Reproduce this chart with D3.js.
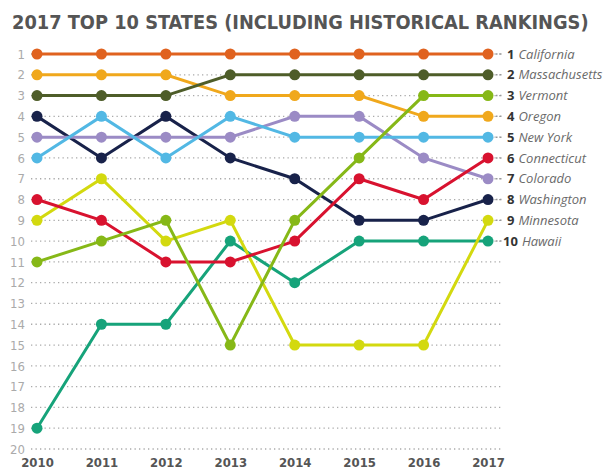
<!DOCTYPE html>
<html>
<head>
<meta charset="utf-8">
<script src="https://cdn.jsdelivr.net/npm/d3@7"></script>
<style>
  body { margin: 0; background: #fff; }
  text { font-family: "DejaVu Sans Condensed", "DejaVu Sans", sans-serif; }
</style>
</head>
<body>
<script>
var width = 610, height = 472;

var years = [2010, 2011, 2012, 2013, 2014, 2015, 2016, 2017];
var rankTicks = d3.range(1, 21);

var states = ["California", "Massachusetts", "Vermont", "Oregon", "New York",
              "Connecticut", "Colorado", "Washington", "Minnesota", "Hawaii"];
var colors = ["#e0621f", "#4e5d29", "#86b817", "#f0a81c", "#52b8e4",
              "#d8122f", "#9b8bc5", "#18224a", "#d3d90f", "#16a37a"];

var californiaRanks    = [1, 1, 1, 1, 1, 1, 1, 1];
var massachusettsRanks = [3, 3, 3, 2, 2, 2, 2, 2];
var vermontRanks       = [11, 10, 9, 15, 9, 6, 3, 3];
var oregonRanks        = [2, 2, 2, 3, 3, 3, 4, 4];
var newYorkRanks       = [6, 4, 6, 4, 5, 5, 5, 5];
var connecticutRanks   = [8, 9, 11, 11, 10, 7, 8, 6];
var coloradoRanks      = [5, 5, 5, 5, 4, 4, 6, 7];
var washingtonRanks    = [4, 6, 4, 6, 7, 9, 9, 8];
var minnesotaRanks     = [9, 7, 10, 9, 15, 15, 15, 9];
var hawaiiRanks        = [19, 14, 14, 10, 12, 10, 10, 10];

var allRanks = [californiaRanks, massachusettsRanks, vermontRanks, oregonRanks,
                newYorkRanks, connecticutRanks, coloradoRanks, washingtonRanks,
                minnesotaRanks, hawaiiRanks];

var svg = d3.select("body").append("svg")
    .attr("width", width)
    .attr("height", height);

var x = d3.scalePoint()
    .domain(years)
    .range([37, 488]);

var y = d3.scaleLinear()
    .domain([1, 20])
    .range([54, 449]);

// title
svg.append("text")
    .attr("x", 12)
    .attr("y", 29)
    .style("font-size", "19.8px")
    .style("font-weight", "bold")
    .attr("fill", "#555")
    .text("2017 TOP 10 STATES (INCLUDING HISTORICAL RANKINGS)");

// dotted grid
svg.append("g").selectAll("line")
    .data(rankTicks)
    .enter().append("line")
    .attr("x1", 31)
    .attr("x2", 503)
    .attr("y1", d => y(d))
    .attr("y2", d => y(d))
    .attr("stroke", "#aaa")
    .attr("stroke-width", 1.3)
    .attr("stroke-dasharray", "1.3,3.2");

// left axis (rank)
var yAxis = svg.append("g")
    .attr("transform", "translate(25,0)")
    .call(d3.axisLeft(y).tickValues(rankTicks).tickSize(0).tickPadding(0));
yAxis.select(".domain").remove();
yAxis.selectAll("text")
    .attr("fill", "#aaa")
    .style("font-size", "13px")
    .style("font-family", "'DejaVu Sans Condensed', sans-serif");

// bottom axis (years)
var xAxis = svg.append("g")
    .attr("transform", "translate(0,452)")
    .call(d3.axisBottom(x).tickFormat(d3.format("d")).tickSize(0).tickPadding(6));
xAxis.select(".domain").remove();
xAxis.selectAll("text")
    .attr("fill", "#555")
    .style("font-size", "13px")
    .style("font-weight", "bold")
    .style("font-family", "'DejaVu Sans Condensed', sans-serif");

var line = d3.line()
    .x((d, i) => x(years[i]))
    .y(d => y(d));

// draw from 10 to 1 so higher-ranked states sit on top
var order = d3.range(states.length).reverse();

order.forEach(function (k) {
    var g = svg.append("g");
    var ranks = allRanks[k];
    g.append("path")
        .datum(ranks)
        .attr("fill", "none")
        .attr("stroke", colors[k])
        .attr("stroke-width", 3)
        .attr("d", line);
    g.selectAll("circle")
        .data(ranks)
        .enter().append("circle")
        .attr("cx", (d, i) => x(years[i]))
        .attr("cy", d => y(d))
        .attr("r", 5.5)
        .attr("fill", colors[k]);
});

// right labels
var labels = svg.append("g");
states.forEach(function (s, k) {
    var ly = y(k + 1);
    labels.append("line")
        .attr("x1", 496)
        .attr("x2", 504)
        .attr("y1", ly)
        .attr("y2", ly)
        .attr("stroke", "#999")
        .attr("stroke-width", 1.5)
        .attr("stroke-dasharray", "1.5,2.5");
    var t = labels.append("text")
        .attr("x", k == 9 ? 503 : 507)
        .attr("y", ly)
        .attr("dy", "0.36em")
        .style("font-size", "13px");
    t.append("tspan")
        .attr("fill", "#333")
        .style("font-weight", "bold")
        .style("font-family", "'Open Sans', sans-serif")
        .text(k + 1);
    t.append("tspan")
        .attr("dx", 4)
        .attr("fill", "#6a6a6a")
        .style("font-style", "italic")
        .style("font-family", "'Open Sans', sans-serif")
        .text(s);
});
</script>
</body>
</html>
